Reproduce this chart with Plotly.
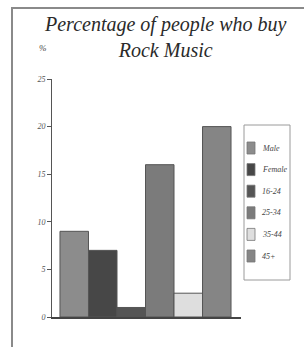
import plotly.graph_objects as go

categories = ["Male", "Female", "16-24", "25-34", "35-44", "45+"]
values = [9, 7, 1, 16, 2.5, 20]
colors = ["#8c8c8c", "#474747", "#555555", "#7b7b7b", "#dedede", "#858585"]
y_ticks = [0, 5, 10, 15, 20, 25]

W, H = 304, 347
L, R, T, B = 52, 63, 79, 30
pw, ph = W - L - R, H - T - B

def px_x(x):
    return (x - L) / pw

def px_y(y):
    return (H - B - y) / ph

serif = "Liberation Serif"
fig = go.Figure()
for i, (c, v, col) in enumerate(zip(categories, values, colors)):
    fig.add_trace(go.Bar(
        x=[i], y=[v], name=c, width=1,
        marker=dict(color=col, line=dict(color="#555555", width=1)),
    ))

fig.update_layout(
    width=W, height=H,
    margin=dict(l=L, r=R, t=T, b=B, autoexpand=False),
    paper_bgcolor="white", plot_bgcolor="white",
    showlegend=False,
    barmode="overlay",
    xaxis=dict(range=[-0.78, 5.85], showticklabels=False, ticks="",
               showline=True, linecolor="#444444", linewidth=1.5,
               showgrid=False, zeroline=False),
    yaxis=dict(range=[0, 25], tickvals=y_ticks, ticks="outside", ticklen=4,
               tickcolor="#555555", showline=True, linecolor="#555555",
               linewidth=1, showgrid=False, zeroline=False,
               tickfont=dict(family=serif, size=8, color="#555555", style="italic")),
    font=dict(family=serif),
)

fig.add_annotation(
    xref="paper", yref="paper", x=px_x(165), y=px_y(37),
    text="Percentage of people who buy<br>Rock Music",
    showarrow=False, xanchor="center", yanchor="middle",
    font=dict(family=serif, size=20, color="#2a2a2a", style="italic"),
)
fig.add_annotation(
    xref="paper", yref="paper", x=px_x(43), y=px_y(48),
    text="%", showarrow=False, xanchor="center", yanchor="middle",
    font=dict(family=serif, size=9, color="#444444", style="italic"),
)
fig.add_shape(
    type="rect", xref="paper", yref="paper",
    x0=px_x(12), x1=px_x(320), y0=px_y(360), y1=px_y(8),
    line=dict(color="#8a8a8a", width=2), layer="above",
)

# legend box (drawn manually to match the compact reference legend)
fig.add_shape(
    type="rect", xref="paper", yref="paper",
    x0=px_x(244), x1=px_x(290), y0=px_y(280), y1=px_y(125),
    line=dict(color="#9a9a9a", width=1), fillcolor="white", layer="above",
)
for k, (c, col) in enumerate(zip(categories, colors)):
    yc = 148 + k * 21.6
    fig.add_shape(
        type="rect", xref="paper", yref="paper",
        x0=px_x(247), x1=px_x(255), y0=px_y(yc + 6), y1=px_y(yc - 6),
        line=dict(color="#777777", width=0.8), fillcolor=col, layer="above",
    )
    fig.add_annotation(
        xref="paper", yref="paper", x=px_x(260), y=px_y(yc),
        text=c, showarrow=False, xanchor="left", yanchor="middle",
        font=dict(family=serif, size=8, color="#444444", style="italic"),
    )

fig.write_html(
    "out.html",
    config={"displayModeBar": False, "staticPlot": True},
    post_script="document.body.style.margin='0';document.body.style.overflow='hidden';",
)
